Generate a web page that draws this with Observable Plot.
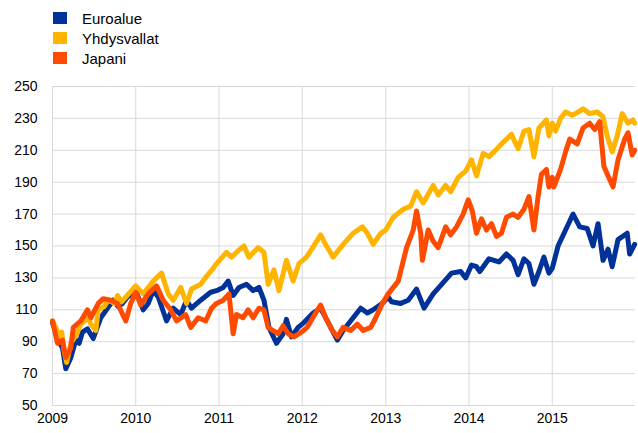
<!DOCTYPE html>
<html>
<head>
<meta charset="utf-8">
<script src="https://cdn.jsdelivr.net/npm/d3@7"></script>
<script src="https://cdn.jsdelivr.net/npm/@observablehq/plot@0.6"></script>
<style>
  html, body { margin: 0; padding: 0; background: #fff; }
  body { width: 638px; height: 433px; position: relative; overflow: hidden; font-family: "Liberation Sans", Arial, sans-serif; }
  #legend { position: relative; height: 72px; }
  .item { position: absolute; left: 53px; height: 20px; display: flex; align-items: center; font-size: 15px; color: #000; }
  .sw { width: 14px; height: 12px; margin-right: 15px; }
  #chart svg { display: block; }
</style>
</head>
<body>
<div id="legend"></div>
<div id="chart"></div>
<script>
// Series names and colours
const seriesNames = ["Euroalue", "Yhdysvallat", "Japani"];
const seriesColors = ["#003299", "#ffb400", "#ff4b00"];

// [decimal year, index value]
const euroalue = [
  [2009.00,102],[2009.04,96],[2009.08,90],[2009.12,86],[2009.16,73],[2009.22,80],[2009.28,91],[2009.32,89],[2009.36,96],[2009.42,98],[2009.49,92],
  [2009.58,105],[2009.66,111],[2009.73,116],[2009.79,112],[2009.84,114],[2009.90,118],[2010.00,122],[2010.09,110],[2010.15,114],[2010.21,122],[2010.27,118],[2010.37,103],
  [2010.45,111],[2010.54,107],[2010.61,116],[2010.67,111],[2010.78,116],[2010.90,121],[2010.97,122],[2011.05,124],[2011.11,128],[2011.17,119],
  [2011.24,124],[2011.33,126],[2011.41,122],[2011.48,124],[2011.54,116],[2011.60,99],[2011.69,89],[2011.77,95],[2011.81,104],[2011.87,93],
  [2011.95,99],[2012.02,102],[2012.13,108],[2012.22,111],[2012.30,103],[2012.42,91],[2012.49,97],[2012.61,105],[2012.70,111],[2012.78,108],
  [2012.85,110],[2012.96,114],[2013.03,118],[2013.07,115],[2013.18,114],[2013.27,116],[2013.37,123],[2013.46,111],[2013.57,120],[2013.69,127],
  [2013.79,133],[2013.90,134],[2013.96,130],[2014.03,138],[2014.09,137],[2014.13,134],[2014.24,142],[2014.36,140],[2014.45,145],[2014.53,141],
  [2014.59,132],[2014.66,142],[2014.72,139],[2014.78,126],[2014.84,134],[2014.90,143],[2014.96,133],[2015.00,136],[2015.07,150],[2015.16,160],
  [2015.25,170],[2015.33,162],[2015.42,161],[2015.49,150],[2015.55,164],[2015.61,141],[2015.67,148],[2015.72,137],[2015.79,154],[2015.90,158],
  [2015.93,145],[2015.99,151]
];

const yhdysvallat = [
  [2009.00,103],[2009.04,99],[2009.08,92],[2009.11,96],[2009.14,84],[2009.17,77],[2009.22,89],[2009.27,93],[2009.30,96],[2009.34,101],[2009.43,105],[2009.46,101],
  [2009.52,97],[2009.55,110],[2009.62,112],[2009.67,116],[2009.75,114],[2009.78,119],[2009.83,115],[2009.88,118],[2009.95,122],[2010.00,125],[2010.09,120],[2010.21,128],[2010.31,133],[2010.39,120],[2010.45,116],[2010.54,124],[2010.61,114],
  [2010.67,123],[2010.78,126],[2010.85,131],[2010.93,136],[2010.97,139],[2011.09,146],[2011.15,143],[2011.23,147],[2011.30,150],[2011.36,143],
  [2011.47,149],[2011.54,146],[2011.59,126],[2011.66,135],[2011.72,122],[2011.81,141],[2011.89,128],[2011.96,139],[2012.05,143],[2012.10,147],
  [2012.22,157],[2012.28,151],[2012.37,143],[2012.49,151],[2012.61,158],[2012.72,162],[2012.78,158],[2012.85,151],[2012.94,158],[2013.00,160],
  [2013.09,168],[2013.21,173],[2013.30,175],[2013.37,184],[2013.45,177],[2013.57,188],[2013.63,182],[2013.72,188],[2013.78,184],[2013.87,193],
  [2013.96,197],[2014.03,204],[2014.09,194],[2014.17,208],[2014.24,206],[2014.30,209],[2014.41,215],[2014.51,220],[2014.59,211],[2014.66,222],
  [2014.72,223],[2014.78,206],[2014.84,224],[2014.93,229],[2014.96,219],[2015.00,227],[2015.04,222],[2015.10,230],[2015.16,234],[2015.24,232],
  [2015.31,234],[2015.37,236],[2015.45,233],[2015.54,234],[2015.61,231],[2015.66,219],[2015.72,209],[2015.78,219],[2015.84,233],[2015.91,227],
  [2015.97,229],[2015.99,227]
];

const japani = [
  [2009.00,103],[2009.06,89],[2009.12,91],[2009.16,80],[2009.22,86],[2009.25,99],[2009.34,103],[2009.42,110],[2009.46,105],[2009.55,114],
  [2009.61,117],[2009.70,116],[2009.78,114],[2009.88,103],[2009.94,114],[2010.00,121],[2010.06,113],[2010.15,120],[2010.25,125],[2010.33,116],
  [2010.42,110],[2010.49,103],[2010.60,107],[2010.66,99],[2010.75,105],[2010.84,103],[2010.91,111],[2010.97,114],[2011.05,116],[2011.12,120],
  [2011.17,95],[2011.21,107],[2011.29,105],[2011.35,110],[2011.41,105],[2011.48,111],[2011.54,110],[2011.59,99],[2011.65,97],[2011.71,95],
  [2011.77,100],[2011.83,95],[2011.90,93],[2011.99,96],[2012.06,99],[2012.16,108],[2012.22,113],[2012.28,105],[2012.36,97],[2012.42,93],
  [2012.49,99],[2012.58,97],[2012.66,101],[2012.73,97],[2012.82,99],[2012.88,105],[2012.96,114],[2013.03,120],[2013.15,128],[2013.25,149],
  [2013.33,160],[2013.37,172],[2013.42,158],[2013.44,141],[2013.51,160],[2013.57,153],[2013.63,149],[2013.72,162],[2013.78,157],[2013.85,162],
  [2013.93,170],[2013.99,179],[2014.04,172],[2014.09,158],[2014.15,167],[2014.21,160],[2014.27,164],[2014.33,156],[2014.39,158],[2014.45,168],
  [2014.53,170],[2014.59,168],[2014.66,173],[2014.72,181],[2014.78,160],[2014.83,181],[2014.87,195],[2014.93,198],[2014.96,187],[2015.00,193],
  [2015.02,187],[2015.10,198],[2015.16,209],[2015.21,217],[2015.30,214],[2015.37,224],[2015.45,227],[2015.51,223],[2015.57,228],[2015.62,200],
  [2015.67,194],[2015.73,187],[2015.79,204],[2015.87,217],[2015.91,221],[2015.96,207],[2015.99,210]
];

const yTicks = [50, 70, 90, 110, 130, 150, 170, 190, 210, 230, 250];
const xTickYears = [2009, 2010, 2011, 2012, 2013, 2014, 2015];

function toDate(t) {
  const y = Math.floor(t);
  const a = Date.UTC(y, 0, 1), b = Date.UTC(y + 1, 0, 1);
  return new Date(a + (t - y) * (b - a));
}

const seriesData = [euroalue, yhdysvallat, japani];
const rows = [];
seriesData.forEach((s, i) => s.forEach(([t, v]) => rows.push({series: seriesNames[i], date: toDate(t), value: v})));
const xTicks = xTickYears.map(y => new Date(Date.UTC(y, 0, 1)));

// Legend
const legend = document.getElementById("legend");
seriesNames.forEach((n, i) => {
  const d = document.createElement("div");
  d.className = "item";
  d.style.top = (8 + i * 20) + "px";
  const sw = document.createElement("span");
  sw.className = "sw";
  sw.style.background = seriesColors[i];
  const tx = document.createElement("span");
  tx.textContent = n;
  d.appendChild(sw); d.appendChild(tx);
  legend.appendChild(d);
});

const chart = Plot.plot({
  width: 638,
  height: 361,
  marginTop: 14,
  marginBottom: 28,
  marginLeft: 52,
  marginRight: 3,
  style: {fontFamily: "Liberation Sans, Arial, sans-serif", fontSize: "14px", color: "#000", background: "#fff"},
  x: {type: "utc", domain: [new Date(Date.UTC(2009,0,1)), new Date(Date.UTC(2016,0,1))]},
  y: {domain: [50, 250]},
  color: {domain: seriesNames, range: seriesColors},
  marks: [
    Plot.gridY(yTicks, {stroke: "#d9d9d9", strokeOpacity: 1, strokeWidth: 1}),
    Plot.gridX(xTicks, {stroke: "#d9d9d9", strokeOpacity: 1, strokeWidth: 1}),
    Plot.axisY(yTicks, {tickSize: 0, tickPadding: 15, label: null, fontSize: 14}),
    Plot.axisX(xTicks, {tickSize: 0, tickPadding: 8, label: null, tickFormat: d => String(d.getUTCFullYear()), fontSize: 14}),
    Plot.line(rows, {x: "date", y: "value", z: "series", stroke: "series", strokeWidth: 5, strokeLinejoin: "round", strokeLinecap: "round"})
  ]
});
document.getElementById("chart").appendChild(chart);
</script>
</body>
</html>
